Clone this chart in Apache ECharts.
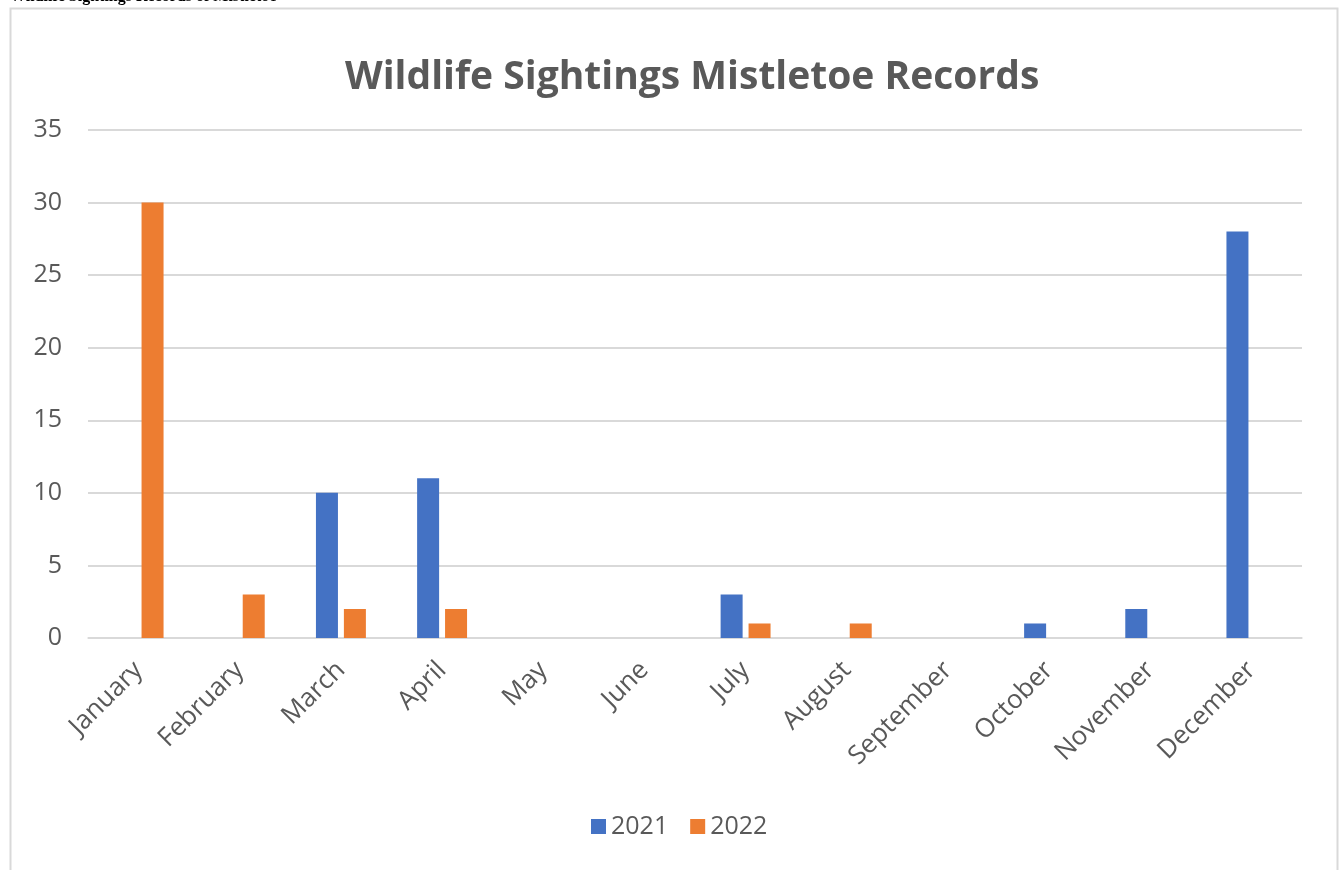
<!DOCTYPE html>
<html><head><meta charset="utf-8">
<script src="https://cdn.jsdelivr.net/npm/echarts@6/dist/echarts.min.js"></script>
<style>html,body{margin:0;padding:0;background:#fff;}#c{width:1340px;height:870px;}</style>
</head><body><div id="c"></div>
<script>
const months = ["January","February","March","April","May","June","July","August","September","October","November","December"];
const s2021 = [0,0,10,11,0,0,3,0,0,1,2,28];
const s2022 = [30,3,2,2,0,0,1,1,0,0,0,0];
const yTicks = [0,5,10,15,20,25,30,35];

const chart = echarts.init(document.getElementById('c'), null, {renderer:'canvas'});
const font = '"Open Sans", "Noto Sans", sans-serif';
chart.setOption({
  animation:false,
  backgroundColor:'#fff',
  graphic:[
    {type:'rect', shape:{x:10.5,y:8.5,width:1327,height:880}, style:{fill:'#fff',stroke:'#d9d9d9',lineWidth:2}, z:-10},
    {type:'text', left:10, top:-11, style:{text:'Wildlife Sightings Records of Mistletoe', font:'bold 16px "Liberation Serif", serif', fill:'#000'}}
  ],
  title:{text:'Wildlife Sightings Mistletoe Records', left:340, top:53, textStyle:{fontFamily:font, fontSize:39, fontWeight:'bold', color:'#595959'}},
  legend:{bottom:26, left:586, itemWidth:15, itemHeight:15, itemGap:22, icon:'rect',
    textStyle:{fontFamily:font, fontSize:25, color:'#595959'}},
  grid:{left:88, right:38, top:130, bottom:232, containLabel:false},
  xAxis:{type:'category', data:months,
    axisLine:{lineStyle:{color:'#d9d9d9', width:1.5}}, axisTick:{show:false},
    axisLabel:{rotate:45, fontFamily:font, fontSize:26, color:'#595959', margin:28, interval:0}},
  yAxis:{type:'value', min:yTicks[0], max:yTicks[yTicks.length-1], interval:5,
    axisLine:{show:false}, axisTick:{show:false},
    splitLine:{lineStyle:{color:'#d9d9d9', width:2}},
    axisLabel:{fontFamily:font, fontSize:25, color:'#595959', margin:26}},
  series:[
    {name:'2021', type:'bar', data:s2021, barWidth:22, barGap:'27%', itemStyle:{color:'#4472c4'}},
    {name:'2022', type:'bar', data:s2022, barWidth:22, barGap:'27%', itemStyle:{color:'#ed7d31'}}
  ]
});
</script></body></html>
